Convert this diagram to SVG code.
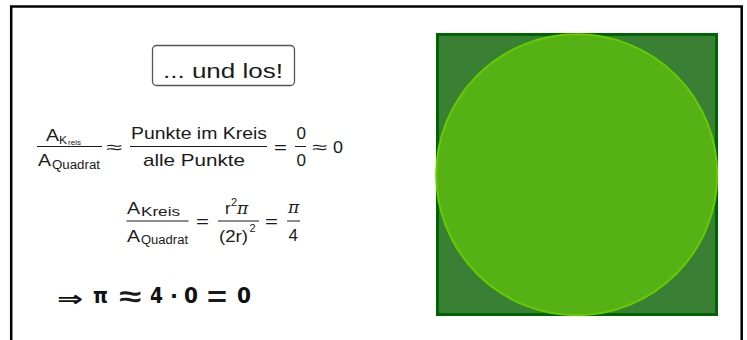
<svg xmlns="http://www.w3.org/2000/svg" width="747" height="340" viewBox="0 0 747 340">
<style>
  .t { font-family: "Liberation Sans", Arial, sans-serif; fill: #1a1a1a; }
  .m { font-size: 17px; }
  .s { font-size: 12px; }
  .pi { font-family: "DejaVu Serif", "Liberation Serif", serif; font-style: italic; font-size: 17px; fill: #1a1a1a; }
  .bar { stroke: #1a1a1a; stroke-width: 1; }
  .b { font-family: "DejaVu Sans", sans-serif; font-weight: bold; font-size: 21px; fill: #111; }
</style>
<rect x="0" y="0" width="747" height="340" fill="#ffffff"/>
<rect id="frame" x="11.2" y="6.5" width="730.5" height="345" fill="none" stroke="#000" stroke-width="2.5"/>

<g id="button">
  <rect x="152.5" y="45.5" width="142" height="40" rx="4" fill="#fff" stroke="#555" stroke-width="1.3"/>
  <text class="t" x="163" y="77.5" font-size="20" textLength="120" lengthAdjust="spacingAndGlyphs">... und los!</text>
</g>

<g id="formula1">
  <text class="t m" x="46" y="141" textLength="13" lengthAdjust="spacingAndGlyphs">A</text>
  <text class="t" x="59" y="144" font-size="10.5" textLength="8" lengthAdjust="spacingAndGlyphs">K</text>
  <text class="t" x="68" y="145" font-size="7" textLength="13" lengthAdjust="spacingAndGlyphs">reis</text>
  <line class="bar" x1="37" y1="146.5" x2="102" y2="146.5"/>
  <text class="t m" x="38" y="166" textLength="13" lengthAdjust="spacingAndGlyphs">A</text>
  <text class="t s" x="52" y="169" textLength="48" lengthAdjust="spacingAndGlyphs">Quadrat</text>
  <text class="t m" x="106" y="153" textLength="16" lengthAdjust="spacingAndGlyphs">≈</text>
  <text class="t m" x="131" y="139" textLength="136" lengthAdjust="spacingAndGlyphs">Punkte im Kreis</text>
  <line class="bar" x1="130" y1="146.5" x2="267" y2="146.5"/>
  <text class="t m" x="143" y="166" textLength="102" lengthAdjust="spacingAndGlyphs">alle Punkte</text>
  <text class="t m" x="274" y="153" textLength="13" lengthAdjust="spacingAndGlyphs">=</text>
  <text class="t m" x="296.5" y="139" textLength="9.5" lengthAdjust="spacingAndGlyphs">0</text>
  <line class="bar" x1="295" y1="146.5" x2="306" y2="146.5"/>
  <text class="t m" x="296.5" y="166" textLength="9.5" lengthAdjust="spacingAndGlyphs">0</text>
  <text class="t m" x="312" y="153" textLength="15" lengthAdjust="spacingAndGlyphs">≈</text>
  <text class="t m" x="333" y="153" textLength="10" lengthAdjust="spacingAndGlyphs">0</text>
</g>

<g id="formula2">
  <text class="t m" x="127" y="214" textLength="13" lengthAdjust="spacingAndGlyphs">A</text>
  <text class="t s" x="141" y="216" textLength="39" lengthAdjust="spacingAndGlyphs">Kreis</text>
  <line class="bar" x1="126.5" y1="221" x2="188.5" y2="221"/>
  <text class="t m" x="127" y="242" textLength="13" lengthAdjust="spacingAndGlyphs">A</text>
  <text class="t s" x="141" y="244" textLength="47" lengthAdjust="spacingAndGlyphs">Quadrat</text>
  <text class="t m" x="196" y="227" textLength="13" lengthAdjust="spacingAndGlyphs">=</text>
  <text class="t m" x="225" y="214">r</text>
  <text class="t" x="231" y="206" font-size="11">2</text>
  <text class="pi" x="237" y="214">π</text>
  <line class="bar" x1="218" y1="221" x2="259" y2="221"/>
  <text class="t m" x="219" y="242" textLength="29" lengthAdjust="spacingAndGlyphs">(2r)</text>
  <text class="t" x="249.5" y="232" font-size="11">2</text>
  <text class="t m" x="265" y="227" textLength="13" lengthAdjust="spacingAndGlyphs">=</text>
  <text class="pi" x="288" y="213">π</text>
  <line class="bar" x1="287" y1="221" x2="300" y2="221"/>
  <text class="t m" x="288.5" y="241">4</text>
</g>

<g id="formula3">
  <text class="b" x="57" y="305.5" font-size="30" font-weight="normal" textLength="26" lengthAdjust="spacingAndGlyphs">⇒</text>
  <text class="b" x="93" y="303" textLength="15" lengthAdjust="spacingAndGlyphs">π</text>
  <text class="t" x="119" y="305.5" font-size="28" font-weight="bold" textLength="22" lengthAdjust="spacingAndGlyphs">≈</text>
  <text class="b" x="150" y="303" textLength="13" lengthAdjust="spacingAndGlyphs">4</text>
  <text class="b" x="170" y="303">·</text>
  <text class="b" x="184" y="303" textLength="14" lengthAdjust="spacingAndGlyphs">0</text>
  <text class="t" x="207" y="305.5" font-size="28" font-weight="bold" textLength="20" lengthAdjust="spacingAndGlyphs">=</text>
  <text class="b" x="237" y="303" textLength="14" lengthAdjust="spacingAndGlyphs">0</text>
</g>

<g id="square">
  <rect x="437.5" y="34.5" width="279" height="280" fill="#3a8034" stroke="#006400" stroke-width="3"/>
</g>
<g id="circle">
  <circle cx="576.7" cy="174.7" r="140.5" fill="#56b114" stroke="#66cc00" stroke-width="2"/>
</g>
</svg>
